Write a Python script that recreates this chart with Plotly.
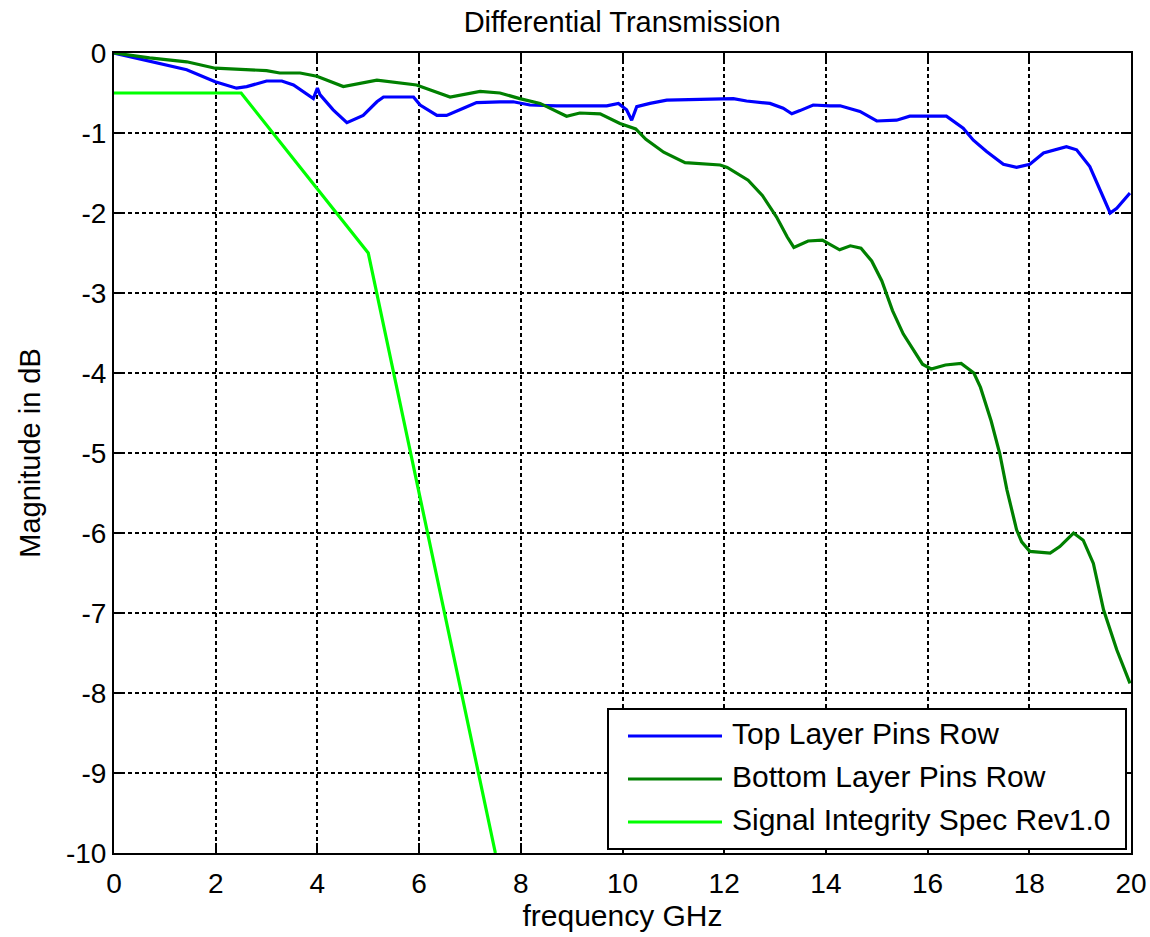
import plotly.graph_objects as go

# ---------------- data ----------------
top_f = [0, 0.5, 1.0, 1.43, 1.99, 2.41, 2.61, 3.0, 3.3, 3.53, 3.92, 4.0, 4.05, 4.31, 4.58,
         4.9, 5.17, 5.3, 5.89, 6.02, 6.35, 6.54, 6.87, 7.13, 7.59, 7.85, 8.18, 8.7, 9.69,
         9.92, 10.08, 10.18, 10.28, 10.54, 10.87, 11.98, 12.18, 12.44, 12.9, 13.16, 13.33,
         13.49, 13.75, 14.08, 14.28, 14.67, 15.0, 15.39, 15.65, 16.37, 16.70, 16.9, 17.16,
         17.49, 17.75, 18.01, 18.28, 18.73, 18.93, 19.19, 19.39, 19.59, 19.72, 19.98]
top_db = [0, -0.07, -0.14, -0.21, -0.36, -0.44, -0.42, -0.35, -0.35, -0.40, -0.57, -0.44,
          -0.52, -0.71, -0.87, -0.78, -0.61, -0.55, -0.55, -0.65, -0.78, -0.78, -0.69, -0.62,
          -0.61, -0.61, -0.65, -0.66, -0.66, -0.63, -0.71, -0.84, -0.67, -0.63, -0.59, -0.58,
          -0.57, -0.60, -0.63, -0.69, -0.76, -0.72, -0.65, -0.66, -0.66, -0.73, -0.85, -0.84,
          -0.79, -0.79, -0.94, -1.09, -1.23, -1.39, -1.43, -1.39, -1.25, -1.17, -1.21, -1.42,
          -1.71, -2.0, -1.94, -1.75]

bot_f = [0, 0.7, 1.43, 1.99, 3.0, 3.26, 3.66, 3.99, 4.51, 5.17, 5.95, 6.28, 6.61, 7.2, 7.59,
         7.98, 8.38, 8.9, 9.16, 9.56, 9.95, 10.26, 10.46, 10.81, 11.23, 11.92, 12.06, 12.47,
         12.75, 13.03, 13.24, 13.37, 13.65, 13.93, 14.27, 14.48, 14.69, 14.9, 15.10, 15.31,
         15.52, 15.73, 15.9, 16.07, 16.35, 16.66, 16.91, 17.04, 17.25, 17.42, 17.56, 17.75,
         17.85, 18.01, 18.41, 18.6, 18.87, 19.06, 19.26, 19.46, 19.72, 19.98]
bot_db = [0, -0.06, -0.11, -0.19, -0.22, -0.25, -0.25, -0.29, -0.42, -0.34, -0.40, -0.48,
          -0.55, -0.48, -0.50, -0.57, -0.63, -0.79, -0.75, -0.76, -0.88, -0.95, -1.08, -1.24,
          -1.37, -1.40, -1.43, -1.59, -1.78, -2.05, -2.30, -2.43, -2.35, -2.34, -2.46, -2.41,
          -2.44, -2.60, -2.85, -3.22, -3.51, -3.72, -3.89, -3.95, -3.90, -3.88, -4.0, -4.18,
          -4.60, -5.01, -5.46, -5.96, -6.11, -6.23, -6.25, -6.17, -6.00, -6.09, -6.38, -6.96,
          -7.46, -7.88]

spec_f = [0, 2.5, 5.0, 7.5]
spec_db = [-0.5, -0.5, -2.5, -10.0]

series_names = ["Top Layer Pins Row", "Bottom Layer Pins Row", "Signal Integrity Spec Rev1.0"]
series_colors = ["#0000FF", "#008000", "#00FF00"]

x_ticks = [0, 2, 4, 6, 8, 10, 12, 14, 16, 18, 20]
y_ticks = [0, -1, -2, -3, -4, -5, -6, -7, -8, -9, -10]

FONT = "Liberation Sans, Arial, Helvetica, sans-serif"
TXT = 30
TICK = 28

fig = go.Figure()
for xs, ys, name, col in zip([top_f, bot_f, spec_f], [top_db, bot_db, spec_db],
                             series_names, series_colors):
    fig.add_trace(go.Scatter(x=xs, y=ys, mode="lines", name=name,
                             line=dict(color=col, width=3.2), showlegend=False))

axis_common = dict(
    showline=True, linecolor="black", linewidth=2, mirror="ticks",
    ticks="inside", ticklen=10, tickwidth=1.5, tickcolor="black",
    showgrid=True, gridcolor="black", gridwidth=1.5, griddash="4px,3px",
    zeroline=False, automargin=False,
    tickfont=dict(family=FONT, size=TICK, color="black"),
)

fig.update_layout(
    width=1150, height=937,
    margin=dict(l=114, r=19, t=53, b=84, autoexpand=False),
    paper_bgcolor="white", plot_bgcolor="white",
    title=dict(text="Differential Transmission", x=0.541, xanchor="center",
               y=1 - 22 / 937, yanchor="middle", yref="container",
               font=dict(family=FONT, size=TXT - 1, color="black")),
    xaxis=dict(range=[0, 20], tickvals=x_ticks, ticktext=[str(v) for v in x_ticks],
               ticklabelstandoff=4,
               title=dict(text="frequency GHz", standoff=7,
                          font=dict(family=FONT, size=TXT, color="black")),
               **axis_common),
    yaxis=dict(range=[-10, 0], tickvals=y_ticks, ticktext=[str(v) for v in y_ticks],
               title=dict(text="Magnitude in dB", standoff=17,
                          font=dict(family=FONT, size=TXT - 1, color="black")),
               **axis_common),
)

# legend box (manual, MATLAB style)
lx0, lx1 = (608 - 114) / 1017, (1126 - 114) / 1017
ly0, ly1 = (853 - 849) / 800, (853 - 709) / 800
fig.add_shape(type="rect", xref="paper", yref="paper", x0=lx0, x1=lx1, y0=ly0, y1=ly1,
              line=dict(color="black", width=2), fillcolor="white", layer="above")
row_y = [736, 779, 822]
for ry, name, col in zip(row_y, series_names, series_colors):
    yp = (853 - ry) / 800
    fig.add_shape(type="line", xref="paper", yref="paper",
                  x0=(628 - 114) / 1017, x1=(722 - 114) / 1017, y0=yp, y1=yp,
                  line=dict(color=col, width=3.2), layer="above")
    fig.add_annotation(xref="paper", yref="paper", x=(730 - 114) / 1017, y=yp + 3 / 800,
                       xanchor="left", yanchor="middle", showarrow=False, text=name,
                       font=dict(family=FONT, size=TXT, color="black"))

fig.write_html("out.html")
